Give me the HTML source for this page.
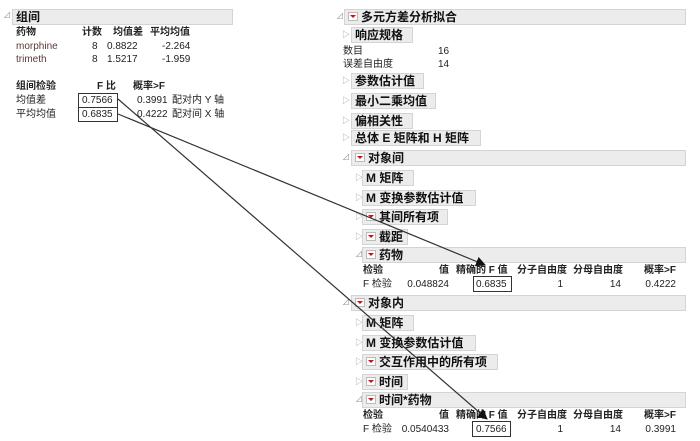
<!DOCTYPE html>
<html><head><meta charset="utf-8"><style>
body{margin:0;width:700px;height:441px;background:#fff;position:relative;overflow:hidden;font-family:"Liberation Sans","Noto Sans CJK SC",sans-serif;font-size:10px;color:#222}
.a{position:absolute;white-space:nowrap;line-height:13px}
.b{font-weight:bold}
.bar{position:absolute;background:#ececec;border:1px solid #d0d0d0;box-sizing:border-box}
.hb{position:absolute;background:#ececec;border:1px solid #d4d4d4;box-sizing:border-box;font-weight:bold;font-size:12px;line-height:14px;padding-left:3px;white-space:nowrap;color:#111}
.r{text-align:right}
.rb{display:inline-block;width:8px;height:7px;background:#fff;border:1px solid #bbb;position:relative;top:0px;margin-right:3px}
.rb:after{content:"";position:absolute;left:1px;top:2px;border-left:3px solid transparent;border-right:3px solid transparent;border-top:3px solid #d01010}
.tri{position:absolute;color:#999;font-size:8px;line-height:10px}
.bx{position:absolute;border:1px solid #333;box-sizing:border-box}
</style></head><body>
<!-- left -->
<div class="tri" style="left:3px;top:11px">⊿</div>
<div class="hb" style="left:12px;top:9px;width:221px;height:16px">组间</div>
<div class="a b" style="left:16px;top:26px">药物</div>
<div class="a b" style="left:82px;top:26px">计数</div>
<div class="a b" style="left:113px;top:26px">均值差</div>
<div class="a b" style="left:150px;top:26px">平均均值</div>
<div class="a" style="left:16px;top:40px;color:#5a3a3a">morphine</div>
<div class="a" style="left:16px;top:53px;color:#5a3a3a">trimeth</div>
<div class="a" style="left:92px;top:40px">8</div><div class="a" style="left:107px;top:40px">0.8822</div><div class="a" style="left:162px;top:40px">-2.264</div>
<div class="a" style="left:92px;top:53px">8</div><div class="a" style="left:107px;top:53px">1.5217</div><div class="a" style="left:162px;top:53px">-1.959</div>
<div class="a b" style="left:16px;top:80px">组间检验</div>
<div class="a b" style="left:97px;top:80px">F 比</div>
<div class="a b" style="left:133px;top:80px">概率&gt;F</div>
<div class="a" style="left:16px;top:94px">均值差</div>
<div class="a" style="left:16px;top:108px">平均均值</div>
<div class="a" style="left:82px;top:94px">0.7566</div><div class="a" style="left:82px;top:108px">0.6835</div>
<div class="a" style="left:137px;top:94px">0.3991</div><div class="a" style="left:137px;top:108px">0.4222</div>
<div class="a" style="left:172px;top:94px">配对内 Y 轴</div>
<div class="a" style="left:172px;top:108px">配对间 X 轴</div>
<div class="bx" style="left:78px;top:93px;width:40px;height:15px"></div>
<div class="bx" style="left:78px;top:107px;width:40px;height:15px"></div>
<!-- right -->
<div class="tri" style="left:336px;top:12px">⊿</div>
<div class="hb" style="left:344px;top:9px;width:342px;height:16px"><span class="rb"></span>多元方差分析拟合</div>
<div class="tri" style="left:342px;top:30px">▷</div>
<div class="hb" style="left:351px;top:27px;width:62px;height:16px">响应规格</div>
<div class="a" style="left:343px;top:45px">数目</div><div class="a" style="left:438px;top:45px">16</div>
<div class="a" style="left:343px;top:58px">误差自由度</div><div class="a" style="left:438px;top:58px">14</div>
<div class="tri" style="left:342px;top:76px">▷</div>
<div class="hb" style="left:351px;top:73px;width:73px;height:16px">参数估计值</div>
<div class="tri" style="left:342px;top:96px">▷</div>
<div class="hb" style="left:351px;top:93px;width:85px;height:16px">最小二乘均值</div>
<div class="tri" style="left:342px;top:116px">▷</div>
<div class="hb" style="left:351px;top:113px;width:62px;height:16px">偏相关性</div>
<div class="tri" style="left:342px;top:133px">▷</div>
<div class="hb" style="left:351px;top:130px;width:130px;height:16px">总体 E 矩阵和 H 矩阵</div>

<div class="tri" style="left:342px;top:153px">⊿</div>
<div class="hb" style="left:351px;top:150px;width:335px;height:16px"><span class="rb"></span>对象间</div>
<div class="tri" style="left:355px;top:173px">▷</div>
<div class="hb" style="left:362px;top:170px;width:52px;height:16px">M 矩阵</div>
<div class="tri" style="left:355px;top:193px">▷</div>
<div class="hb" style="left:362px;top:190px;width:114px;height:16px">M 变换参数估计值</div>
<div class="tri" style="left:355px;top:212px">▷</div>
<div class="hb" style="left:362px;top:209px;width:86px;height:16px"><span class="rb"></span>其间所有项</div>
<div class="tri" style="left:355px;top:232px">▷</div>
<div class="hb" style="left:362px;top:229px;width:46px;height:16px"><span class="rb"></span>截距</div>
<div class="tri" style="left:355px;top:250px">⊿</div>
<div class="hb" style="left:362px;top:247px;width:324px;height:16px"><span class="rb"></span>药物</div>
<div class="a b" style="left:363px;top:264px">检验</div>
<div class="a b r" style="left:420px;top:264px;width:29px">值</div>
<div class="a b" style="left:456px;top:264px">精确的 F 值</div>
<div class="a b" style="left:517px;top:264px">分子自由度</div>
<div class="a b" style="left:573px;top:264px">分母自由度</div>
<div class="a b r" style="left:630px;top:264px;width:46px">概率&gt;F</div>
<div class="a" style="left:363px;top:278px">F 检验</div>
<div class="a r" style="left:390px;top:278px;width:59px">0.048824</div>
<div class="a" style="left:476px;top:278px">0.6835</div>
<div class="a r" style="left:540px;top:278px;width:23px">1</div>
<div class="a r" style="left:600px;top:278px;width:21px">14</div>
<div class="a r" style="left:630px;top:278px;width:46px">0.4222</div>
<div class="bx" style="left:473px;top:276px;width:39px;height:16px"></div>

<div class="tri" style="left:342px;top:298px">⊿</div>
<div class="hb" style="left:351px;top:295px;width:335px;height:16px"><span class="rb"></span>对象内</div>
<div class="tri" style="left:355px;top:318px">▷</div>
<div class="hb" style="left:362px;top:315px;width:52px;height:16px">M 矩阵</div>
<div class="tri" style="left:355px;top:338px">▷</div>
<div class="hb" style="left:362px;top:335px;width:114px;height:16px">M 变换参数估计值</div>
<div class="tri" style="left:355px;top:357px">▷</div>
<div class="hb" style="left:362px;top:354px;width:136px;height:16px"><span class="rb"></span>交互作用中的所有项</div>
<div class="tri" style="left:355px;top:377px">▷</div>
<div class="hb" style="left:362px;top:374px;width:46px;height:16px"><span class="rb"></span>时间</div>
<div class="tri" style="left:355px;top:395px">⊿</div>
<div class="hb" style="left:362px;top:392px;width:324px;height:16px"><span class="rb"></span>时间*药物</div>
<div class="a b" style="left:363px;top:409px">检验</div>
<div class="a b r" style="left:420px;top:409px;width:29px">值</div>
<div class="a b" style="left:456px;top:409px">精确的 F 值</div>
<div class="a b" style="left:517px;top:409px">分子自由度</div>
<div class="a b" style="left:573px;top:409px">分母自由度</div>
<div class="a b r" style="left:630px;top:409px;width:46px">概率&gt;F</div>
<div class="a" style="left:363px;top:423px">F 检验</div>
<div class="a r" style="left:390px;top:423px;width:59px">0.0540433</div>
<div class="a" style="left:476px;top:423px">0.7566</div>
<div class="a r" style="left:540px;top:423px;width:23px">1</div>
<div class="a r" style="left:600px;top:423px;width:21px">14</div>
<div class="a r" style="left:630px;top:423px;width:46px">0.3991</div>
<div class="bx" style="left:472px;top:421px;width:39px;height:16px"></div>

<svg style="position:absolute;left:0;top:0" width="700" height="441">
<defs><marker id="m" markerWidth="10" markerHeight="10" refX="9" refY="5" orient="auto" markerUnits="userSpaceOnUse"><path d="M0,0 L10,5 L0,10 z" fill="#111"/></marker></defs>
<line x1="118" y1="114" x2="485" y2="265" stroke="#333" stroke-width="1.2" marker-end="url(#m)"/>
<line x1="118" y1="99" x2="487" y2="419" stroke="#333" stroke-width="1.2" marker-end="url(#m)"/>
</svg>
</body></html>
